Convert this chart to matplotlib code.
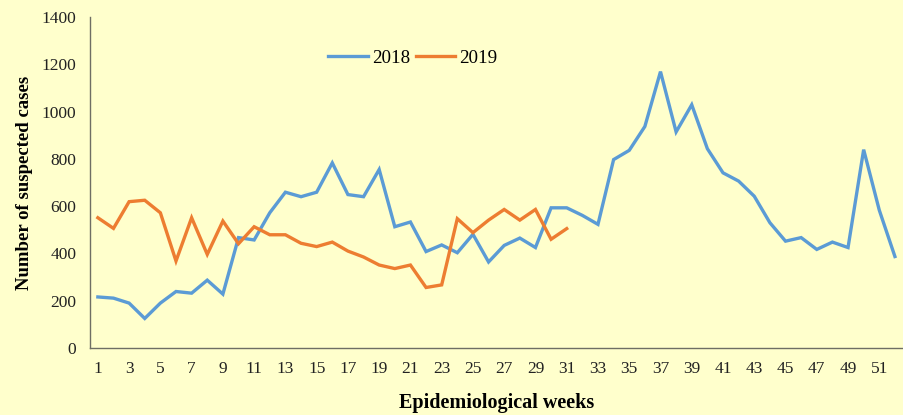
import matplotlib
matplotlib.use('Agg')
from matplotlib import pyplot as plt
import numpy as np

weeks_2018 = list(range(1, 53))
cases_2018 = [216, 211, 190, 125, 190, 239, 232, 287, 228, 467,
              457, 572, 659, 640, 659, 783, 649, 640, 755, 513,
              533, 408, 436, 403, 481, 364, 434, 465, 425, 593,
              593, 561, 523, 797, 836, 937, 1169, 914, 1029, 843,
              741, 706, 642, 530, 452, 467, 417, 448, 425, 839,
              583, 387]

weeks_2019 = list(range(1, 32))
cases_2019 = [551, 506, 619, 625, 572, 368, 551, 396, 537, 441,
              513, 479, 479, 443, 429, 448, 410, 385, 351, 336,
              351, 256, 267, 547, 488, 541, 586, 541, 586, 460,
              505]

xtick_weeks = list(range(1, 53, 2))
ytick_vals = list(range(0, 1401, 200))

bg = '#FFFFCC'
plt.rcParams['font.family'] = ['Liberation Serif', 'DejaVu Serif']

fig = plt.figure(figsize=(9.04, 4.15), dpi=100, facecolor=bg)
ax = fig.add_axes([0.0996, 0.1614, 0.899, 0.7976], facecolor=bg)

ax.plot(weeks_2018, cases_2018, color='#5B9BD5', lw=2.4, label='2018',
        solid_joinstyle='miter')
ax.plot(weeks_2019, cases_2019, color='#ED7D31', lw=2.4, label='2019',
        solid_joinstyle='miter')

ax.set_xlim(0.5, 52.5)
ax.set_ylim(0, 1400)
ax.set_xticks(xtick_weeks)
ax.set_yticks(ytick_vals)
ax.tick_params(axis='both', length=0, labelsize=12.5, colors='#222222')
ax.tick_params(axis='x', pad=9)
ax.tick_params(axis='y', pad=10)

for s in ['top', 'right']:
    ax.spines[s].set_visible(False)
for s in ['left', 'bottom']:
    ax.spines[s].set_color('#6E6E64')
    ax.spines[s].set_linewidth(1.0)

ax.set_xlabel('Epidemiological weeks', fontsize=14.5, fontweight='bold', labelpad=12)
ax.set_ylabel('Number of suspected cases', fontsize=13.5, fontweight='bold', labelpad=6)

ax.legend(loc='center', bbox_to_anchor=(0.397, 0.876), ncol=2, frameon=False,
          fontsize=13.7, handlelength=2.1, columnspacing=0.3, handletextpad=0.2)

plt.savefig('out.png', dpi=100, facecolor=bg)
